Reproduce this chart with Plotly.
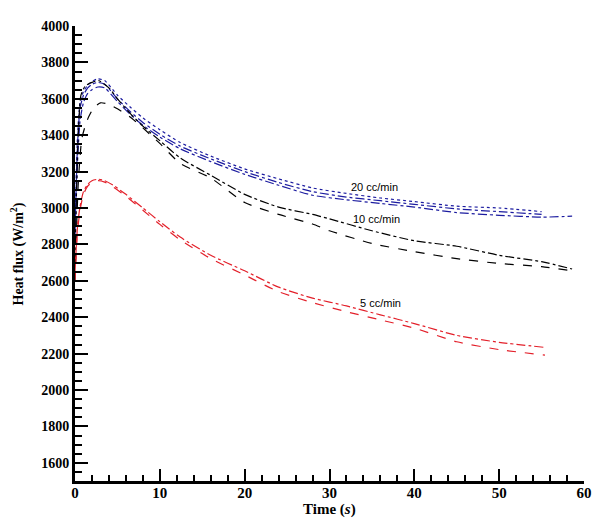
import plotly.graph_objects as go

# ---- data ----
blue_a_t = [0, 0.3, 0.6, 1.0, 1.5, 2.0, 2.7, 3.5, 5, 6.5, 8, 10, 12.4, 16, 20, 24, 28, 32, 36, 40, 45, 50, 55]
blue_a_v = [2900, 3400, 3580, 3640, 3675, 3695, 3710, 3700, 3620, 3555, 3495, 3430, 3360, 3285, 3215, 3160, 3110, 3080, 3055, 3035, 3010, 3000, 2980]

blue_b_t = [0, 0.3, 0.6, 1.0, 1.5, 2.0, 2.7, 3.5, 5, 6.5, 8, 10, 12.4, 16, 20, 24, 28, 32, 36, 40, 45, 50, 55]
blue_b_v = [2850, 3350, 3550, 3620, 3660, 3680, 3690, 3680, 3600, 3530, 3470, 3405, 3340, 3270, 3200, 3140, 3090, 3060, 3040, 3020, 2995, 2980, 2965]

blue_c_t = [0, 0.3, 0.6, 1.0, 1.5, 2.0, 2.7, 3.5, 5, 6.5, 8, 10, 12.4, 16, 20, 24, 28, 32, 36, 40, 45, 50, 55, 58.6]
blue_c_v = [2800, 3250, 3480, 3580, 3630, 3650, 3665, 3660, 3585, 3515, 3455, 3390, 3325, 3255, 3185, 3125, 3070, 3045, 3025, 3005, 2975, 2960, 2950, 2955]

black_a_t = [0, 0.3, 0.7, 1.2, 2, 2.8, 4, 5, 6.5, 8, 10, 12.4, 16, 20, 24, 28, 30, 35, 40, 45, 50, 55, 58.6]
black_a_v = [2700, 3300, 3620, 3670, 3690, 3700, 3660, 3600, 3520, 3450, 3370, 3275, 3180, 3075, 3005, 2965, 2940, 2875, 2820, 2790, 2740, 2705, 2665]

black_b_t = [0, 0.4, 0.8, 1.2, 1.6, 2.2, 3, 4, 5, 6.5, 8, 10, 12.4, 16, 20, 24, 28, 30, 35, 40, 45, 50, 55, 58.6]
black_b_v = [2600, 3150, 3380, 3450, 3500, 3550, 3578, 3570, 3545, 3500, 3440, 3355, 3245, 3165, 3030, 2965, 2912, 2875, 2805, 2760, 2722, 2695, 2678, 2655]

red_a_t = [0, 0.3, 0.6, 1.0, 1.5, 2.0, 2.75, 3.5, 4.5, 6, 8, 10, 12.4, 16, 20, 24, 28, 32, 36, 40, 45, 50, 55.4]
red_a_v = [2650, 2900, 3010, 3090, 3130, 3150, 3158, 3150, 3125, 3075, 3000, 2925, 2840, 2740, 2655, 2565, 2505, 2462, 2413, 2365, 2300, 2262, 2234]

red_b_t = [0, 0.3, 0.6, 1.0, 1.5, 2.0, 2.75, 3.5, 4.5, 6, 8, 10, 12.4, 16, 20, 24, 28, 32, 36, 40, 45, 50, 55.4]
red_b_v = [2600, 2870, 2990, 3075, 3120, 3140, 3150, 3142, 3115, 3065, 2988, 2910, 2825, 2722, 2632, 2540, 2480, 2430, 2385, 2340, 2265, 2222, 2192]

labels = ["20 cc/min", "10 cc/min", "5 cc/min"]
label_t = [35.3, 35.5, 36.0]
label_v = [3117, 2938, 2478]

BLUE = "#1c1ca0"
RED = "#e3202a"
BLACK = "#000000"

fig = go.Figure()
series = [
    (blue_a_t, blue_a_v, BLUE, "dot"),
    (blue_b_t, blue_b_v, BLUE, "dashdot"),
    (blue_c_t, blue_c_v, BLUE, "dashdot"),
    (black_a_t, black_a_v, BLACK, "dashdot"),
    (black_b_t, black_b_v, BLACK, "dash"),
    (red_a_t, red_a_v, RED, "dashdot"),
    (red_b_t, red_b_v, RED, "dash"),
]
for t, v, c, d in series:
    fig.add_trace(go.Scatter(x=t, y=v, mode="lines",
                             line=dict(color=c, width=1.2, dash=d, shape="spline", smoothing=0.6),
                             showlegend=False, hoverinfo="skip"))

for txt, tx, ty in zip(labels, label_t, label_v):
    fig.add_annotation(x=tx, y=ty, text=txt, showarrow=False,
                       font=dict(family="Liberation Sans", size=11, color="black"))

fig.add_annotation(xref="paper", yref="paper", x=-0.112, y=0.5, xanchor="center", yanchor="middle",
                   text="Heat flux (W/m<sup>2</sup>)", textangle=-90, showarrow=False,
                   font=dict(family="Liberation Serif", size=14, color="black", weight="bold"))
fig.add_annotation(xref="paper", yref="paper", x=0.5, y=-0.063, xanchor="center", yanchor="middle",
                   text="Time (<i>s</i>)", showarrow=False,
                   font=dict(family="Liberation Serif", size=15, color="black", weight="bold"))

tickfont = dict(family="Liberation Serif", size=14, color="black", weight="bold")
fig.update_xaxes(range=[0, 60], tickmode="linear", tick0=0, dtick=10, ticks="inside", ticklen=12,
                 tickwidth=2, tickcolor="black", showline=True, linewidth=3, linecolor="black",
                 showgrid=False, zeroline=False, tickfont=dict(tickfont, size=15), ticklabelstandoff=-4,
                 minor=dict(dtick=2, ticks="inside", ticklen=6, tickwidth=2, tickcolor="black", showgrid=False))
fig.update_yaxes(range=[1500, 4000], tickmode="linear", tick0=0, dtick=200, ticks="inside", ticklen=13,
                 tickwidth=2, tickcolor="black", showline=True, linewidth=3, linecolor="black",
                 showgrid=False, zeroline=False, tickfont=tickfont,
                 minor=dict(dtick=50, ticks="inside", ticklen=7, tickwidth=2, tickcolor="black", showgrid=False))

# page body has an 8px margin, so the figure is offset by 8px right and down
fig.update_layout(width=595, height=517, margin=dict(l=67, r=19, t=11, b=44),
                  plot_bgcolor="white", paper_bgcolor="white")
fig.write_html("out.html")
